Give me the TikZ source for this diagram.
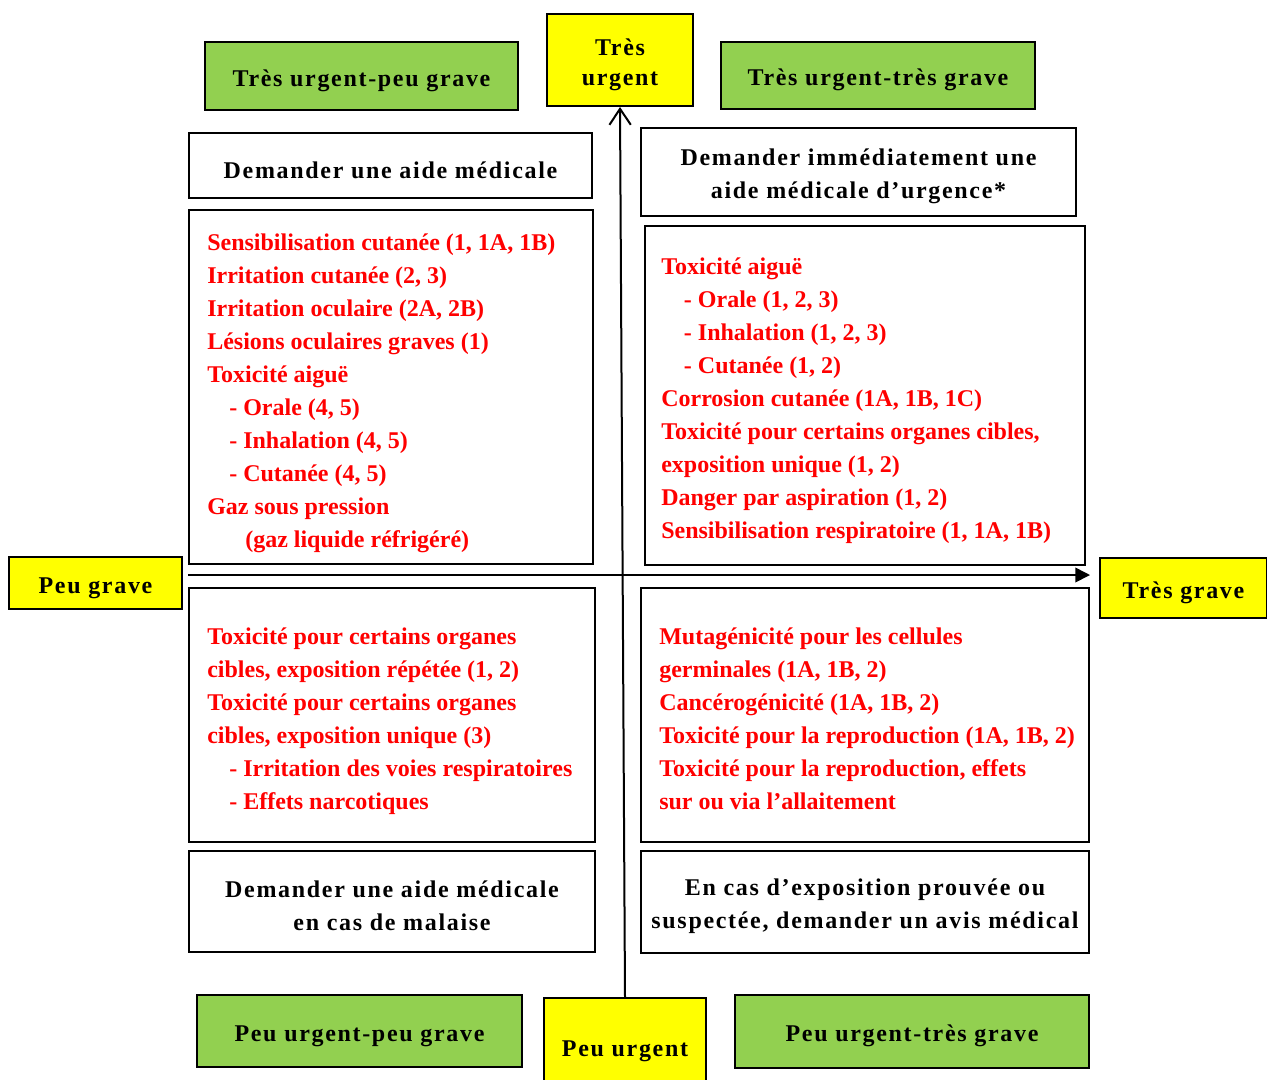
\documentclass[tikz,border=0pt]{standalone}
\usepackage{fontspec}
\setmainfont{Liberation Serif}
\newfontfamily\widefont[LetterSpace=7]{Liberation Serif}
\newcommand\padtop{\rule{0pt}{19pt}}
\usetikzlibrary{arrows.meta,positioning}
\definecolor{boxyellow}{HTML}{FFFF00}
\definecolor{boxgreen}{HTML}{92D050}
\definecolor{hazred}{HTML}{FF0000}

\begin{document}
\begin{tikzpicture}[x=0.75pt,y=-0.75pt,
  every node/.style={font=\widefont\bfseries\fontsize{18}{24.5}\selectfont},
  axisbox/.style={draw,line width=1.5pt,fill=boxyellow,align=center,inner sep=0pt},
  zonebox/.style={draw,line width=1.5pt,fill=boxgreen,inner sep=0pt},
  advice/.style={draw,line width=1.2pt,align=center,inner sep=0pt},
  hazbox/.style={draw,line width=1.2pt,inner sep=0pt},
  haztxt/.style={anchor=north west,align=left,inner sep=0pt,text=hazred,
    font=\bfseries\fontsize{18}{24.7}\selectfont}]
  \useasboundingbox (0,0) rectangle (1267,1079);

  % Axis labels (yellow)
  \node[axisbox,minimum width=109.5pt,minimum height=69pt,
    font=\widefont\bfseries\fontsize{18}{22.5}\selectfont] (turgent) at (620,60) {\padtop Très\\urgent};
  \node[axisbox,minimum width=121.5pt,minimum height=72pt] (purgent) at (625,1046) {\padtop Peu urgent};
  \node[axisbox,minimum width=129.75pt,minimum height=39pt] (pgrave) at (95.5,583) {\padtop Peu grave};
  \node[axisbox,minimum width=125.25pt,minimum height=45pt] (tgrave) at (1183.5,588) {\padtop Très grave};

  % Quadrant titles (green)
  \node[zonebox,minimum width=234.75pt,minimum height=51pt] (tupg) at (361.5,76) {\padtop Très urgent-peu grave};
  \node[zonebox,minimum width=235.5pt,minimum height=50.25pt] (tutg) at (878,75.5) {\padtop Très urgent-très grave};
  \node[zonebox,minimum width=243.75pt,minimum height=54pt] (pupg) at (359.5,1031) {\padtop Peu urgent-peu grave};
  \node[zonebox,minimum width=265.5pt,minimum height=54.75pt] (putg) at (912,1031.5) {\padtop Peu urgent-très grave};

  % What to do
  \node[advice,minimum width=302.25pt,minimum height=48.75pt] (aideTL) at (390.5,165.5) {\padtop Demander une aide médicale};
  \node[advice,minimum width=326.25pt,minimum height=66pt] (aideTR) at (858.5,172) {\padtop Demander immédiatement une\\aide médicale d’urgence*};
  \node[advice,minimum width=304.5pt,minimum height=75.75pt] (aideBL) at (392,901.5) {\padtop Demander une aide médicale\\en cas de malaise};
  \node[advice,minimum width=336pt,minimum height=76.5pt] (aideBR) at (865,902) {\padtop En cas d’exposition prouvée ou\\suspectée, demander un avis médical};

  % Hazard classes (red)
  \node[hazbox,minimum width=303pt,minimum height=265.5pt] (hazTL) at (391,387) {};
  \node[hazbox,minimum width=330pt,minimum height=254.25pt] (hazTR) at (865,395.5) {};
  \node[hazbox,minimum width=304.5pt,minimum height=190.5pt] (hazBL) at (392,715) {};
  \node[hazbox,minimum width=336pt,minimum height=190.5pt] (hazBR) at (865,715) {};

  \node[haztxt] (txtTL) at (207,234) {Sensibilisation cutanée (1, 1A, 1B)\\
    Irritation cutanée (2, 3)\\
    Irritation oculaire (2A, 2B)\\
    Lésions oculaires graves (1)\\
    Toxicité aiguë\\
    \hspace*{16.5pt}- Orale (4, 5)\\
    \hspace*{16.5pt}- Inhalation (4, 5)\\
    \hspace*{16.5pt}- Cutanée (4, 5)\\
    Gaz sous pression\\
    \hspace*{28.5pt}(gaz liquide réfrigéré)};
  \node[haztxt] (txtTR) at (661,258) {Toxicité aiguë\\
    \hspace*{17pt}- Orale (1, 2, 3)\\
    \hspace*{17pt}- Inhalation (1, 2, 3)\\
    \hspace*{17pt}- Cutanée (1, 2)\\
    Corrosion cutanée (1A, 1B, 1C)\\
    Toxicité pour certains organes cibles,\\
    exposition unique (1, 2)\\
    Danger par aspiration (1, 2)\\
    Sensibilisation respiratoire (1, 1A, 1B)};
  \node[haztxt] (txtBL) at (207,628) {Toxicité pour certains organes\\
    cibles, exposition répétée (1, 2)\\
    Toxicité pour certains organes\\
    cibles, exposition unique (3)\\
    \hspace*{16.5pt}- Irritation des voies respiratoires\\
    \hspace*{16.5pt}- Effets narcotiques};
  \node[haztxt] (txtBR) at (659,628) {Mutagénicité pour les cellules\\
    germinales (1A, 1B, 2)\\
    Cancérogénicité (1A, 1B, 2)\\
    Toxicité pour la reproduction (1A, 1B, 2)\\
    Toxicité pour la reproduction, effets\\
    sur ou via l’allaitement};

  % Axes
  \coordinate (hleft) at (188,575);
  \coordinate (hright) at (1090,575);
  \draw[line width=1.5pt,-{Straight Barb[length=12pt,width=16pt]}] (purgent.north) -- (turgent.south);
  \draw[line width=1.2pt,-{Triangle[length=11pt,width=11pt]}] (hleft) -- (hright);
\end{tikzpicture}
\end{document}
